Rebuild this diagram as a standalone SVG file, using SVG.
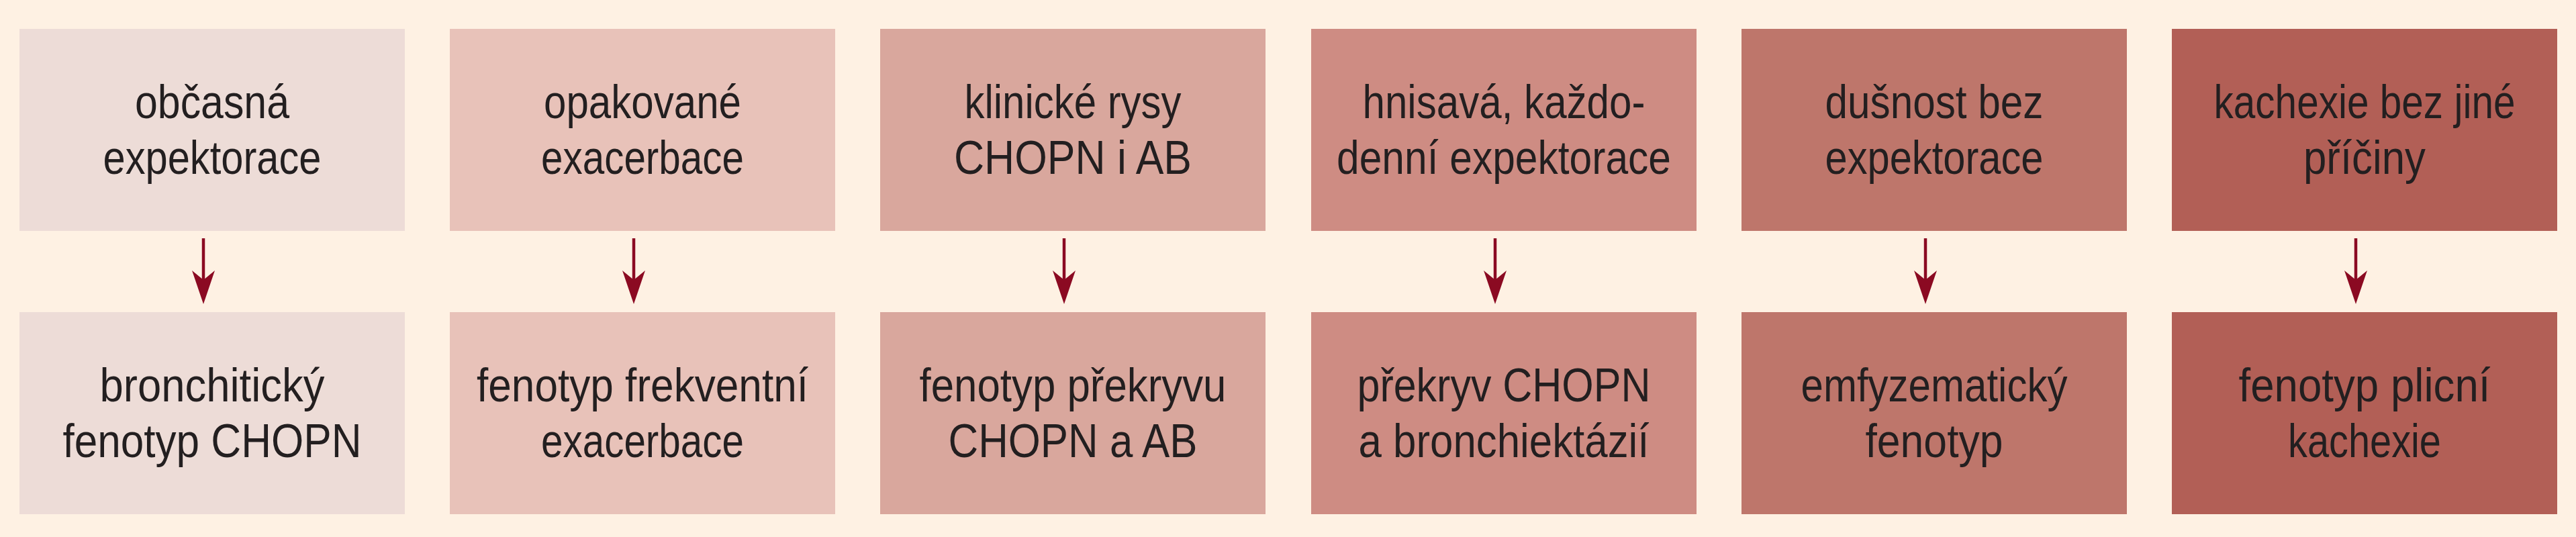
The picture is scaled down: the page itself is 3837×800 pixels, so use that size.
<svg xmlns="http://www.w3.org/2000/svg" width="3837" height="800" viewBox="0 0 3837 800">
<defs>
<style>
.bg{fill:#FEF1E3}
.t{font-family:"Liberation Sans",Arial,sans-serif;font-size:70px;fill:#231f20;text-anchor:middle}
.c1{fill:#EDDCD7}.c2{fill:#E8C2B9}.c3{fill:#D9A79D}.c4{fill:#CE8C83}.c5{fill:#BE766B}.c6{fill:#B25F56}
.ln{stroke:#8B0A22;stroke-width:4.5;fill:none;marker-end:url(#ah)}
</style>
<marker id="ah" markerUnits="userSpaceOnUse" viewBox="0 -17 50 34" refX="27" refY="0" markerWidth="50" markerHeight="34" orient="auto">
<path d="M50,0 L0,-17 L14,0 L0,17 Z" fill="#8B0A22"/>
</marker>
</defs>
<rect class="bg" x="0" y="0" width="3837" height="800"/>

<g id="n1a"><rect class="c1" x="29" y="43" width="574" height="301"/>
<text class="t" x="316" y="176" textLength="230" lengthAdjust="spacingAndGlyphs">občasná</text>
<text class="t" x="316" y="259" textLength="325" lengthAdjust="spacingAndGlyphs">expektorace</text></g>
<g id="n1b"><rect class="c1" x="29" y="465" width="574" height="301"/>
<text class="t" x="316" y="598" textLength="335" lengthAdjust="spacingAndGlyphs">bronchitický</text>
<text class="t" x="316" y="681" textLength="445" lengthAdjust="spacingAndGlyphs">fenotyp CHOPN</text></g>

<g id="n2a"><rect class="c2" x="670" y="43" width="574" height="301"/>
<text class="t" x="957" y="176" textLength="294" lengthAdjust="spacingAndGlyphs">opakované</text>
<text class="t" x="957" y="259" textLength="302" lengthAdjust="spacingAndGlyphs">exacerbace</text></g>
<g id="n2b"><rect class="c2" x="670" y="465" width="574" height="301"/>
<text class="t" x="957" y="598" textLength="494" lengthAdjust="spacingAndGlyphs">fenotyp frekventní</text>
<text class="t" x="957" y="681" textLength="302" lengthAdjust="spacingAndGlyphs">exacerbace</text></g>

<g id="n3a"><rect class="c3" x="1311" y="43" width="574" height="301"/>
<text class="t" x="1598" y="176" textLength="323" lengthAdjust="spacingAndGlyphs">klinické rysy</text>
<text class="t" x="1598" y="259" textLength="354" lengthAdjust="spacingAndGlyphs">CHOPN i AB</text></g>
<g id="n3b"><rect class="c3" x="1311" y="465" width="574" height="301"/>
<text class="t" x="1598" y="598" textLength="457" lengthAdjust="spacingAndGlyphs">fenotyp překryvu</text>
<text class="t" x="1598" y="681" textLength="371" lengthAdjust="spacingAndGlyphs">CHOPN a AB</text></g>

<g id="n4a"><rect class="c4" x="1953" y="43" width="574" height="301"/>
<text class="t" x="2240" y="176" textLength="421" lengthAdjust="spacingAndGlyphs">hnisavá, každo-</text>
<text class="t" x="2240" y="259" textLength="498" lengthAdjust="spacingAndGlyphs">denní expektorace</text></g>
<g id="n4b"><rect class="c4" x="1953" y="465" width="574" height="301"/>
<text class="t" x="2240" y="598" textLength="437" lengthAdjust="spacingAndGlyphs">překryv CHOPN</text>
<text class="t" x="2240" y="681" textLength="433" lengthAdjust="spacingAndGlyphs">a bronchiektázií</text></g>

<g id="n5a"><rect class="c5" x="2594" y="43" width="574" height="301"/>
<text class="t" x="2881" y="176" textLength="325" lengthAdjust="spacingAndGlyphs">dušnost bez</text>
<text class="t" x="2881" y="259" textLength="325" lengthAdjust="spacingAndGlyphs">expektorace</text></g>
<g id="n5b"><rect class="c5" x="2594" y="465" width="574" height="301"/>
<text class="t" x="2881" y="598" textLength="397" lengthAdjust="spacingAndGlyphs">emfyzematický</text>
<text class="t" x="2881" y="681" textLength="205" lengthAdjust="spacingAndGlyphs">fenotyp</text></g>

<g id="n6a"><rect class="c6" x="3235" y="43" width="574" height="301"/>
<text class="t" x="3522" y="176" textLength="449" lengthAdjust="spacingAndGlyphs">kachexie bez jiné</text>
<text class="t" x="3522" y="259" textLength="182" lengthAdjust="spacingAndGlyphs">příčiny</text></g>
<g id="n6b"><rect class="c6" x="3235" y="465" width="574" height="301"/>
<text class="t" x="3522" y="598" textLength="375" lengthAdjust="spacingAndGlyphs">fenotyp plicní</text>
<text class="t" x="3522" y="681" textLength="228" lengthAdjust="spacingAndGlyphs">kachexie</text></g>

<g id="connectors">
<path class="ln" d="M303,355 V430"/>
<path class="ln" d="M944,355 V430"/>
<path class="ln" d="M1585,355 V430"/>
<path class="ln" d="M2227,355 V430"/>
<path class="ln" d="M2868,355 V430"/>
<path class="ln" d="M3509,355 V430"/>
</g>
</svg>
